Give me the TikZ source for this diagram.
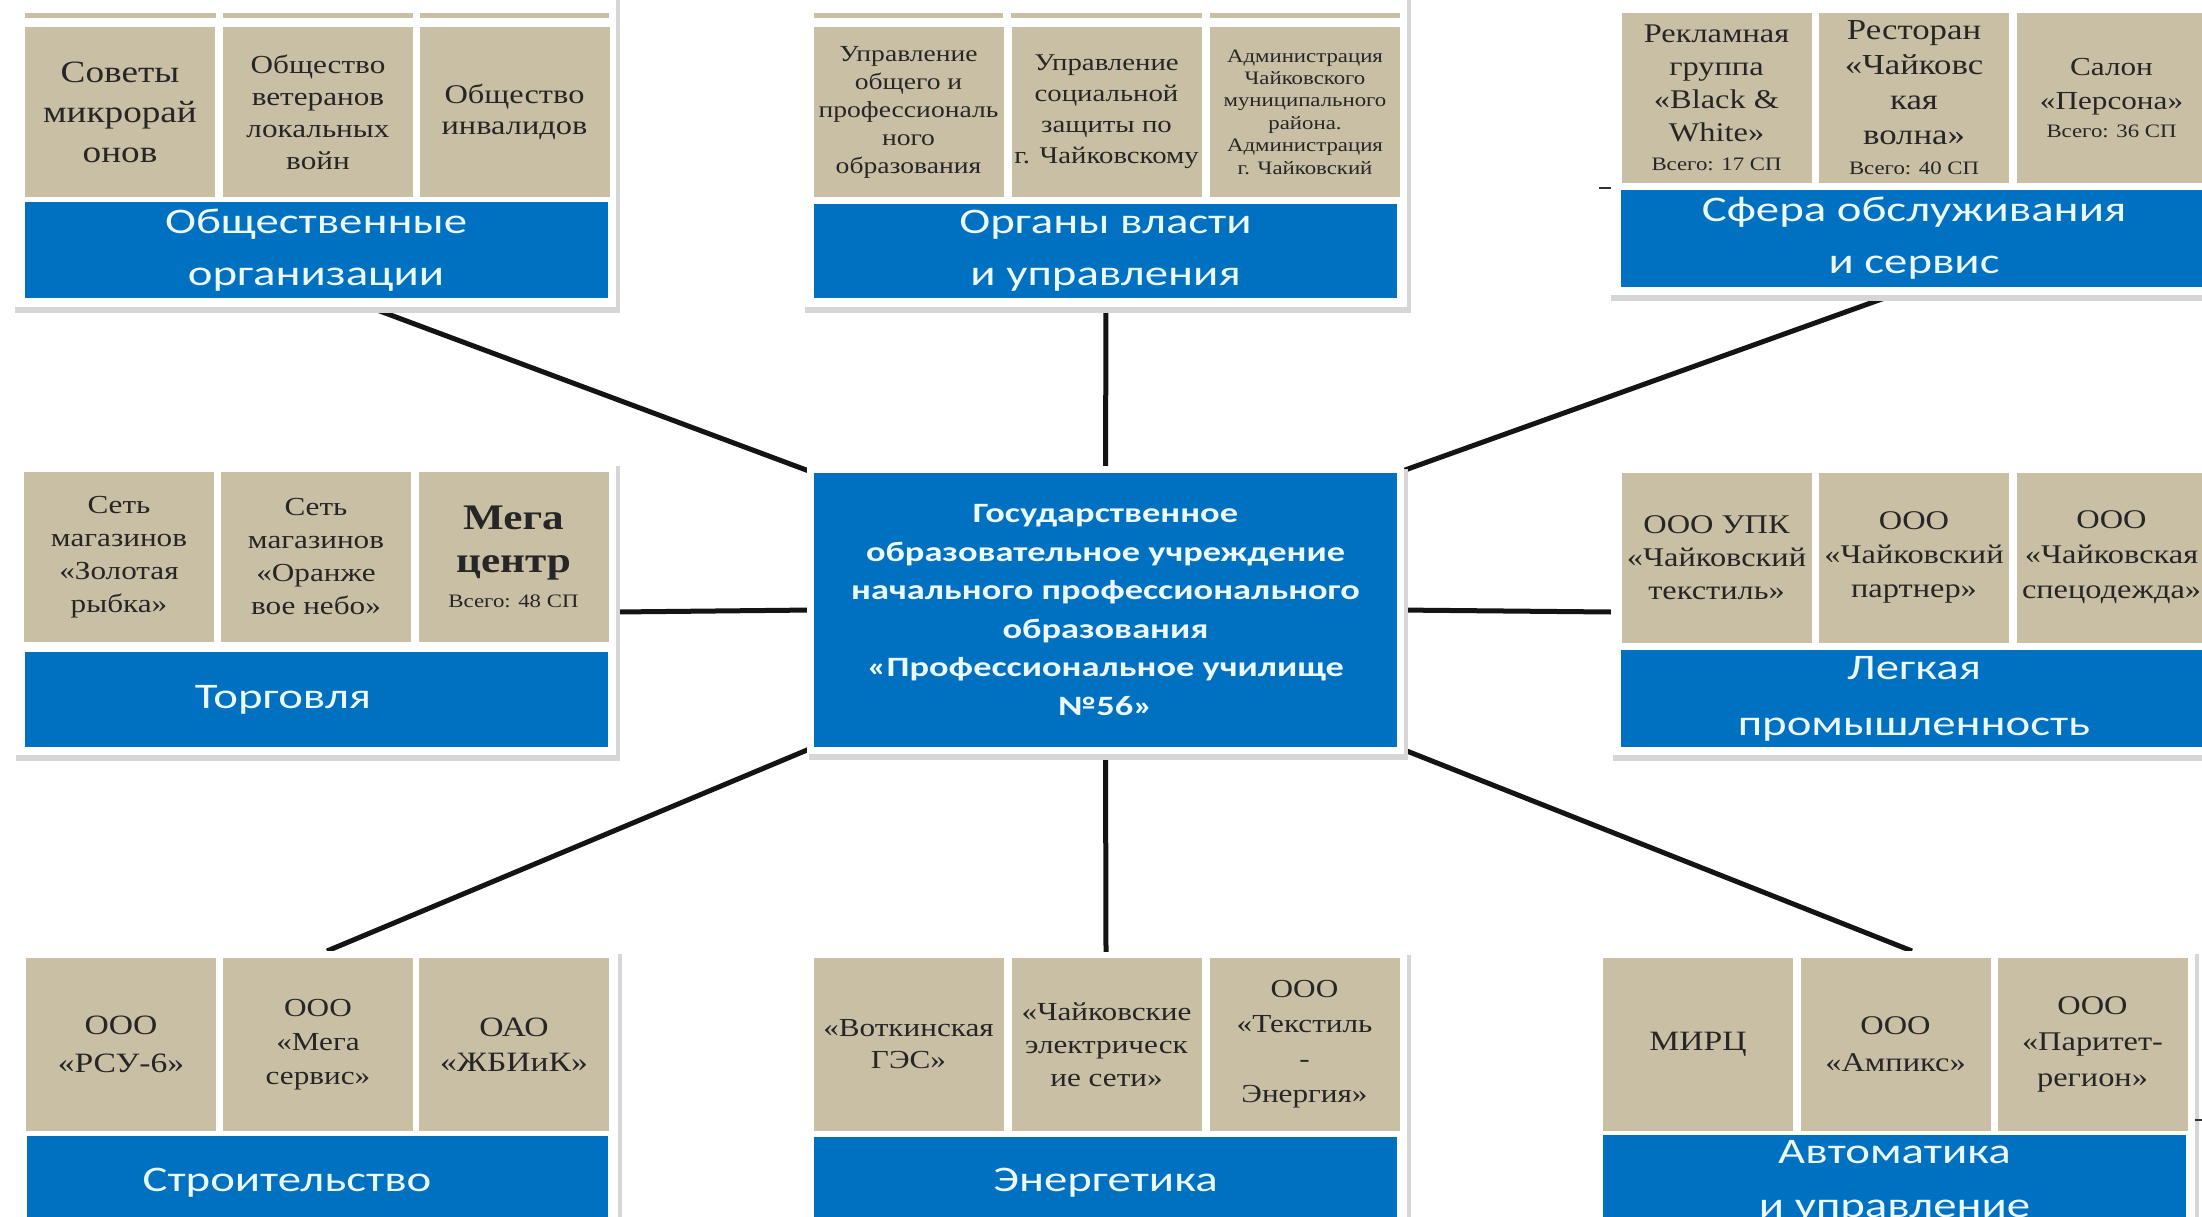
\documentclass[tikz,border=0pt]{standalone}
\usepackage{fontspec}
\setmainfont{Liberation Serif}
\newfontfamily\cellf{Liberation Serif}[FakeStretch=1.2]
\newfontfamily\barf{Carlito}[FakeStretch=1.3]
\usetikzlibrary{backgrounds}
\definecolor{tanc}{RGB}{200,191,165}
\definecolor{barblue}{RGB}{0,112,192}
\definecolor{bartext}{RGB}{236,249,255}
\newcommand\fsz[2]{\fontsize{#1}{#2}\selectfont}
\newcommand\wpanel[4]{%
  \fill[black!16] (#1+2,#2+3) rectangle (#3+4,#4+6);
  \fill[white] (#1,#2) rectangle (#3,#4);}
\tikzset{
  cell/.style={fill=tanc, inner sep=0pt, text=black!85, align=center,
    minimum width=190pt, minimum height=170pt},
  cs/.style 2 args={font=\cellf\fsz{#1}{#2}},
  bar/.style={fill=barblue, inner sep=0pt, text=bartext, align=center,
    font=\barf\fsz{36}{52}},
  ctrbox/.style={fill=barblue, inner sep=0pt, text=bartext, align=center,
    font=\barf\bfseries\fsz{28}{38.6}, minimum width=583pt, minimum height=274pt},
  conn/.style={line width=5pt, black!92},
  tick/.style={line width=2pt, black!80}
}
\newcommand\vsg[1]{{\fsz{19}{24}Всего: #1 СП}}
\begin{document}
\begin{tikzpicture}[x=1pt,y=-1pt]
\useasboundingbox (0,0) rectangle (2202,1217);
\clip (0,0) rectangle (2202,1217);

% ---------- panels (white frames) ----------
\wpanel{13}{-10}{616}{307}
\wpanel{803}{-10}{1407}{307}
\wpanel{1609}{5}{2230}{295}
\wpanel{14}{463}{616}{755}
\wpanel{807}{466}{1404}{754}
\wpanel{1611}{465}{2230}{755}
\wpanel{14}{951}{618}{1240}
\wpanel{803}{952}{1407}{1240}
\wpanel{1595}{951}{2195}{1240}

% top strips
\fill[tanc] (24.6,13) rectangle (215.6,18);
\fill[tanc] (223,13) rectangle (413,18);
\fill[tanc] (420,13) rectangle (609,18);
\fill[tanc] (814,13) rectangle (1003,18);
\fill[tanc] (1011,13) rectangle (1202,18);
\fill[tanc] (1210,13) rectangle (1400,18);

% ---------- Общественные организации ----------
\node[cell, cs={31}{40}] (p1a) at (120,112) {Советы\\микрорай\\онов};
\node[cell, cs={26}{32}] (p1b) at (318,112) {Общество\\ветеранов\\локальных\\войн};
\node[cell, cs={27}{31}] (p1c) at (514.5,112) {Общество\\инвалидов};
\node[bar, minimum width=583pt, minimum height=96pt] (p1bar) at (316,250) {Общественные\\организации};

% ---------- Органы власти ----------
\node[cell, cs={23}{28}] (p2a) at (908.5,112) {Управление\\общего и\\профессиональ\\ного\\образования};
\node[cell, cs={24}{31}] (p2b) at (1106.5,112) {Управление\\социальной\\защиты по\\г. Чайковскому};
\node[cell, cs={19}{22.4}] (p2c) at (1305,112) {Администрация\\Чайковского\\муниципального\\района.\\Администрация\\г. Чайковский};
\node[bar, minimum width=583pt, minimum height=94pt] (p2bar) at (1105.5,251) {Органы власти\\и управления};

% ---------- Сфера обслуживания ----------
\node[cell, cs={27}{33}] (p3a) at (1716.5,98) {Рекламная\\группа\\«Black \&\\White»\\[-4pt]\vsg{17}};
\node[cell, cs={29}{35}] (p3b) at (1914,98) {Ресторан\\«Чайковс\\кая\\волна»\\[-5pt]\vsg{40}};
\node[cell, cs={26}{34}] (p3c) at (2111.5,98) {Салон\\«Персона»\\[-6pt]\vsg{36}};
\node[bar, minimum width=586pt, minimum height=97pt] (p3bar) at (1914,238.5) {Сфера обслуживания\\и сервис};

% ---------- Торговля ----------
\node[cell, cs={26}{33}] (p4a) at (119,557) {Сеть\\магазинов\\«Золотая\\рыбка»};
\node[cell, cs={26}{33}] (p4b) at (316,557) {Сеть\\магазинов\\«Оранже\\вое небо»};
\node[cell, font=\cellf\bfseries\fsz{36}{43}] (p4c) at (513.5,557) {Мега\\центр\\[-8pt]{\mdseries\vsg{48}}};
\node[bar, minimum width=583pt, minimum height=95pt] (p4bar) at (316,699.5) {Торговля\hspace{66pt}};

% ---------- центр ----------
\node[ctrbox] (ctr) at (1105.5,610) {Государственное\\образовательное учреждение\\начального профессионального\\образования\\«Профессиональное училище\\№56»};

% ---------- Легкая промышленность ----------
\node[cell, cs={27}{33}] (p6a) at (1716.5,557.5) {ООО УПК\\«Чайковский\\текстиль»};
\node[cell, cs={27}{34}] (p6b) at (1914,557.5) {ООО\\«Чайковский\\партнер»};
\node[cell, cs={27}{35}] (p6c) at (2111.5,557.5) {ООО\\«Чайковская\\спецодежда»};
\node[bar, minimum width=586pt, minimum height=97pt, font=\barf\fsz{36}{56}] (p6bar) at (1914,698.5) {Легкая\\промышленность};

% ---------- Строительство ----------
\node[cell, minimum height=173pt, cs={28}{38}] (p7a) at (121,1044.5) {ООО\\«РСУ-6»};
\node[cell, minimum height=173pt, cs={26}{34}] (p7b) at (318,1044.5) {ООО\\«Мега\\сервис»};
\node[cell, minimum height=173pt, cs={28}{35}] (p7c) at (514,1044.5) {ОАО\\«ЖБИиК»};
\node[bar, minimum width=581pt, minimum height=94pt] (p7bar) at (317,1183) {Строительство\hspace{60pt}};

% ---------- Энергетика ----------
\node[cell, minimum height=173pt, cs={26}{32}] (p8a) at (908.5,1044.5) {«Воткинская\\ГЭС»};
\node[cell, minimum height=173pt, cs={26}{33}] (p8b) at (1106.5,1044.5) {«Чайковские\\электрическ\\ие сети»};
\node[cell, minimum height=173pt, cs={26}{35}] (p8c) at (1304.5,1044.5) {ООО\\«Текстиль\\-\\Энергия»};
\node[bar, minimum width=583pt, minimum height=92pt] (p8bar) at (1105.5,1183) {Энергетика};

% ---------- Автоматика ----------
\node[cell, minimum height=173pt, cs={28}{34}] (p9a) at (1698,1044.5) {МИРЦ};
\node[cell, minimum height=173pt, cs={27}{37}] (p9b) at (1895.5,1044.5) {ООО\\«Ампикс»};
\node[cell, minimum height=173pt, cs={27}{36}] (p9c) at (2092.5,1044.5) {ООО\\«Паритет-\\регион»};
\node[bar, minimum width=583pt, minimum height=94pt, font=\barf\fsz{36}{54}] (p9bar) at (1894.5,1182) {Автоматика\\и управление};

% ---------- connector end points ----------
\coordinate (e1) at (369,307);
\coordinate (e2) at (1106,307);
\coordinate (e3) at (1893,295);
\coordinate (e4) at (616,612);
\coordinate (e5) at (1611,612);
\coordinate (e6) at (327,951);
\coordinate (e7) at (1106,952);
\coordinate (e8) at (1912,951);
\coordinate (k1a) at (1599,188);
\coordinate (k1b) at (1611,188);
\coordinate (k2a) at (2195,1120);
\coordinate (k2b) at (2202,1120);

\begin{pgfonlayer}{background}
  \fill[white] (0,0) rectangle (2202,1217);
  \draw[conn] (e1) -- (ctr.north west);
  \draw[conn] (e2) -- (ctr.north);
  \draw[conn] (e3) -- (ctr.north east);
  \draw[conn] (e4) -- (ctr.west);
  \draw[conn] (e5) -- (ctr.east);
  \draw[conn] (e6) -- (ctr.south west);
  \draw[conn] (e7) -- (ctr.south);
  \draw[conn] (e8) -- (ctr.south east);
\end{pgfonlayer}
\draw[tick] (k1a) -- (k1b);
\draw[tick] (k2a) -- (k2b);
\end{tikzpicture}
\end{document}
